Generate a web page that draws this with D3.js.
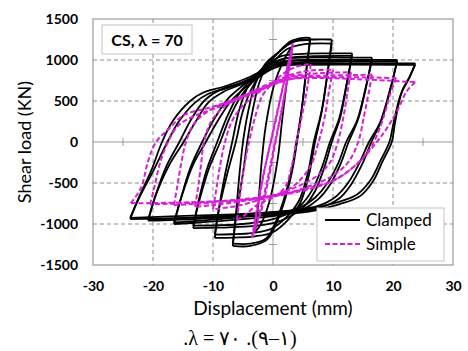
<!DOCTYPE html>
<html>
<head>
<meta charset="utf-8">
<script src="https://cdn.jsdelivr.net/npm/d3@7/dist/d3.min.js"></script>
<style>
    body { margin: 0; background: #fff; }
    svg { display: block; }
</style>
</head>
<body>
<script>
const width = 468;
const height = 351;

// axis labels
const xTicks = [-30, -20, -10, 0, 10, 20, 30];
const yTicks = [-1500, -1000, -500, 0, 500, 1000, 1500];
const xMinorTicks = [-25, -15, -5, 5, 15, 25];
const yMinorTicks = [-1250, -750, -250, 250, 750, 1250];

// Clamped specimen, one loop per array: [displacement mm, shear kN]
// each loop starts at its positive peak, runs to the negative peak and back
const clamped3 = [[3,1150],[2.4,800],[1.5,250],[0.8,-200],[-0.5,-700],[-2,-1000],[-3,-1100],[-2.5,-800],[-1.9,-250],[-1.2,200],[0.2,700],[1.8,1000],[3,1150]];
const clamped6a = [[6.2,1270],[5.6,900],[4.8,400],[4,0],[3.2,-350],[2,-700],[0.5,-1000],[-1,-1190],[-3.8,-1268],[-6.7,-1268],[-6.2,-900],[-5.6,-400],[-5,0],[-4.2,350],[-3,700],[-1.3,950],[1,1100],[3,1230],[5,1270],[6.2,1270]];
const clamped6b = [[6.2,1240],[5.5,850],[4.7,350],[3.9,0],[3.1,-350],[1.8,-700],[0.3,-1000],[-1.2,-1180],[-3.8,-1240],[-6.7,-1240],[-6.1,-880],[-5,-380],[-4.3,0],[-3.4,380],[-2.3,720],[-0.8,960],[1.2,1110],[3.2,1215],[5,1240],[6.2,1240]];
const clamped10a = [[9.8,1250],[9.2,900],[8.2,400],[7,0],[6,-400],[4.5,-750],[2.5,-950],[0,-1100],[-3,-1150],[-6.5,-1165],[-9.7,-1170],[-9.1,-850],[-8,-400],[-6.8,0],[-5.6,400],[-4,700],[-2,880],[0,1020],[2,1170],[4,1240],[7,1250],[9.8,1250]];
const clamped10b = [[9.8,1200],[9.1,850],[8.1,380],[6.8,0],[5.8,-380],[4.3,-720],[2.2,-920],[-0.3,-1060],[-3.5,-1110],[-7,-1125],[-9.7,-1130],[-9,-820],[-7.6,-380],[-6.2,0],[-5,380],[-3.5,660],[-1.8,850],[0.2,990],[2.3,1130],[5,1190],[9.8,1200]];
const clamped13a = [[13.2,1080],[12.4,750],[11.2,300],[9.8,0],[8.6,-300],[7,-600],[5,-800],[2.5,-920],[0,-990],[-4,-1030],[-9,-1045],[-13.3,-1050],[-12.5,-750],[-11.1,-350],[-9.3,0],[-7.7,300],[-6,550],[-4.2,720],[-2.5,840],[-0.5,970],[1.5,1050],[5,1075],[9,1080],[13.2,1080]];
const clamped13b = [[13.2,1050],[12.3,720],[11,280],[9.5,0],[8.2,-300],[6.5,-590],[4.5,-780],[2,-890],[-1,-960],[-5,-1000],[-9,-1015],[-13.3,-1020],[-12.3,-720],[-10.7,-330],[-8.8,0],[-7.2,300],[-5.5,540],[-3.8,700],[-2,820],[0,940],[2,1020],[6,1045],[13.2,1050]];
const clamped16a = [[16.5,1030],[15.6,700],[14.2,280],[12.6,0],[11.2,-280],[9.5,-520],[7.5,-700],[5,-820],[2,-880],[-2,-920],[-8,-960],[-13,-985],[-16.5,-1000],[-15.4,-700],[-13.8,-320],[-11.8,0],[-9.8,280],[-7.6,520],[-5.5,660],[-3.5,780],[-1,920],[1.5,1010],[6,1030],[12,1030],[16.5,1030]];
const clamped16b = [[16.5,1000],[15.5,680],[14,260],[12.2,0],[10.8,-270],[9,-510],[7,-680],[4.5,-800],[1.5,-860],[-3,-900],[-9,-940],[-13,-965],[-16.5,-980],[-15.3,-680],[-13.4,-290],[-11.2,0],[-9.2,260],[-7,500],[-5,640],[-3,760],[-0.8,890],[1.5,980],[6,1000],[16.5,1000]];
const clamped20a = [[20.7,1000],[19.6,650],[18,250],[16.4,0],[14.8,-280],[13,-520],[11,-690],[8,-800],[4,-850],[0,-880],[-6,-910],[-13,-940],[-20.8,-960],[-19.7,-680],[-17.8,-300],[-15.6,0],[-13.6,280],[-11.5,500],[-9,630],[-5.5,720],[-2.5,820],[0,930],[3,990],[10,1000],[20.7,1000]];
const clamped20b = [[20.7,980],[19.5,640],[17.8,230],[16,0],[14.3,-270],[12.5,-500],[10.4,-670],[7.5,-780],[3.5,-830],[-1,-860],[-7,-895],[-14,-925],[-20.8,-950],[-19.6,-660],[-17.3,-280],[-14.9,0],[-12.8,260],[-10.8,480],[-8.3,610],[-5,710],[-2,810],[0.5,920],[3.5,970],[12,980],[20.7,980]];
const clamped24a = [[23.7,960],[22.8,800],[21.5,620],[20.3,220],[19.8,0],[18.3,-230],[16.7,-475],[14.5,-660],[11,-760],[6,-850],[0,-890],[-8,-910],[-16,-930],[-23.8,-940],[-22.5,-700],[-20.3,-350],[-18.5,0],[-16.7,256],[-13.8,500],[-11.7,600],[-8,680],[-4,790],[-1,900],[1,950],[4,960],[12,960],[23.7,960]];
const clamped24b = [[23.7,940],[22.7,780],[21.3,580],[20,200],[19.4,0],[17.9,-230],[16.3,-460],[14,-640],[10.5,-740],[5.5,-820],[0,-860],[-8,-885],[-16,-905],[-23.8,-925],[-22.3,-680],[-19.8,-330],[-17.6,0],[-15.7,250],[-13,480],[-11,580],[-7.5,660],[-3.5,770],[-0.5,880],[1.5,930],[5,940],[23.7,940]];

// Simple specimen
const simple3a = [[3.3,1200],[2.6,850],[1.5,400],[0.4,0],[-0.6,-400],[-2,-850],[-3.5,-1170],[-2.8,-850],[-1.6,-400],[-0.4,0],[0.8,400],[2.2,850],[3.3,1200]];
const simple3b = [[3.2,1150],[2.4,780],[1.2,300],[0.2,-50],[-0.9,-450],[-2.3,-880],[-3.3,-1120],[-2.5,-780],[-1.3,-300],[-0.2,50],[1,450],[2.3,880],[3.2,1150]];
const simple6 = [[6.3,950],[5.8,700],[4.9,350],[3.9,0],[3.1,-300],[2,-550],[0,-680],[-2.5,-760],[-4.5,-880],[-6,-950],[-5.5,-650],[-4.8,-300],[-4,0],[-3,300],[-1.8,560],[0,720],[2,850],[4,920],[6.3,950]];
const simple10 = [[10,880],[9.4,650],[8.6,300],[7.6,0],[6.2,-300],[4,-500],[1.5,-620],[-2,-700],[-6,-780],[-10,-820],[-9.5,-600],[-8.8,-280],[-8,0],[-6.8,260],[-4.8,460],[-2.5,600],[0,720],[3,820],[6,870],[10,880]];
const simple13 = [[13,850],[12.5,650],[11.8,330],[10.8,0],[9.5,-250],[7,-430],[3.5,-560],[0,-650],[-5,-720],[-10,-770],[-13,-790],[-12.5,-560],[-12,-280],[-11.5,0],[-10.3,250],[-8,440],[-4.5,580],[-1,700],[3,800],[8,840],[13,850]];
const simple16 = [[16.5,820],[16,620],[15.2,330],[14.2,0],[12.5,-250],[9.5,-430],[6,-540],[2,-630],[-4,-700],[-10,-740],[-16.5,-770],[-16,-560],[-15.3,-260],[-14.5,0],[-13.2,220],[-10.5,390],[-6,530],[-1,680],[3,790],[9,810],[16.5,820]];
const simple20 = [[20.5,780],[19.6,600],[18.5,320],[17.2,60],[15.8,-120],[13,-330],[10,-470],[6,-560],[2,-630],[-4,-690],[-12,-735],[-20.5,-760],[-19.8,-560],[-18.8,-250],[-17.5,0],[-15.8,200],[-13,320],[-8.5,440],[-4,570],[0,700],[4,780],[12,790],[20.5,780]];
const simple24 = [[23.7,730],[22.3,620],[20.7,380],[19,170],[17.3,0],[14,-270],[10,-475],[6.2,-570],[2,-640],[-4,-700],[-12,-730],[-20,-745],[-23.7,-745],[-22,-560],[-20.8,-230],[-19.5,0],[-17.5,150],[-14.8,330],[-10,430],[-5,560],[0,700],[3,770],[8,780],[16,760],[23.7,730]];

const clampedLoops = [clamped3, clamped6a, clamped6b, clamped10a, clamped10b, clamped13a, clamped13b,
    clamped16a, clamped16b, clamped20a, clamped20b, clamped24a, clamped24b];
const simpleLoops = [simple3a, simple3b, simple6, simple10, simple13, simple16, simple20, simple24];

const font = "Lato, 'Open Sans', sans-serif";
const magenta = "#d81ed8";
const plot = { left: 93, right: 453, top: 19, bottom: 265 };

const svg = d3.select("body")
    .append("svg")
    .attr("width", width)
    .attr("height", height);

const x = d3.scaleLinear().domain([-30, 30]).range([plot.left, plot.right]);
const y = d3.scaleLinear().domain([-1500, 1500]).range([plot.bottom, plot.top]);

svg.append("clipPath")
    .attr("id", "plot-clip")
    .append("rect")
    .attr("x", plot.left)
    .attr("y", plot.top)
    .attr("width", plot.right - plot.left)
    .attr("height", plot.bottom - plot.top);

// dashed grid
svg.selectAll(".grid-x")
    .data(xTicks.filter((d) => d !== 0 && Math.abs(d) !== 30))
    .enter()
    .append("line")
    .attr("x1", (d) => x(d))
    .attr("x2", (d) => x(d))
    .attr("y1", plot.top)
    .attr("y2", plot.bottom)
    .attr("stroke", "#8c8c8c")
    .attr("stroke-dasharray", "4,3");

svg.selectAll(".grid-y")
    .data(yTicks.filter((d) => d !== 0 && Math.abs(d) !== 1500))
    .enter()
    .append("line")
    .attr("x1", plot.left)
    .attr("x2", plot.right)
    .attr("y1", (d) => y(d))
    .attr("y2", (d) => y(d))
    .attr("stroke", "#8c8c8c")
    .attr("stroke-dasharray", "4,3");

// zero axes with crossing ticks
const axisColor = "#9a9a9a";
svg.append("line")
    .attr("x1", plot.left).attr("x2", plot.right)
    .attr("y1", y(0)).attr("y2", y(0))
    .attr("stroke", axisColor);
svg.append("line")
    .attr("x1", x(0)).attr("x2", x(0))
    .attr("y1", plot.top).attr("y2", plot.bottom)
    .attr("stroke", axisColor);
svg.selectAll(".x-minor")
    .data(xMinorTicks)
    .enter()
    .append("line")
    .attr("x1", (d) => x(d)).attr("x2", (d) => x(d))
    .attr("y1", y(0) - 4).attr("y2", y(0) + 4)
    .attr("stroke", axisColor);
svg.selectAll(".y-minor")
    .data(yMinorTicks)
    .enter()
    .append("line")
    .attr("x1", x(0) - 4).attr("x2", x(0) + 4)
    .attr("y1", (d) => y(d)).attr("y2", (d) => y(d))
    .attr("stroke", axisColor);

// split every loop at its negative peak so the reversal corners stay sharp
function branches(loops) {
    const out = [];
    loops.forEach((loop) => {
        const turn = d3.minIndex(loop, (d) => d[0]);
        out.push(loop.slice(0, turn + 1), loop.slice(turn));
    });
    return out;
}

const line = d3.line()
    .x((d) => x(d[0]))
    .y((d) => y(d[1]))
    .curve(d3.curveCatmullRom.alpha(0.5));

const data = svg.append("g").attr("clip-path", "url(#plot-clip)");

data.selectAll(".clamped")
    .data(branches(clampedLoops))
    .enter()
    .append("path")
    .attr("d", line)
    .attr("fill", "none")
    .attr("stroke", "#000")
    .attr("stroke-width", 1.8)
    .attr("stroke-linejoin", "miter");

data.selectAll(".simple")
    .data(branches(simpleLoops))
    .enter()
    .append("path")
    .attr("d", line)
    .attr("fill", "none")
    .attr("stroke", magenta)
    .attr("stroke-width", 2)
    .attr("stroke-dasharray", "5,2.5");

// border
svg.append("rect")
    .attr("x", plot.left)
    .attr("y", plot.top)
    .attr("width", plot.right - plot.left)
    .attr("height", plot.bottom - plot.top)
    .attr("fill", "none")
    .attr("stroke", axisColor)
    .attr("stroke-width", 1.2);

// tick labels
const yAxis = svg.append("g")
    .attr("transform", `translate(${plot.left},0)`)
    .call(d3.axisLeft(y).tickValues(yTicks).tickSize(0).tickPadding(15).tickFormat((d) => String(d)));
const xAxis = svg.append("g")
    .attr("transform", `translate(0,${plot.bottom})`)
    .call(d3.axisBottom(x).tickValues(xTicks).tickSize(0).tickPadding(16).tickFormat((d) => String(d)));
[xAxis, yAxis].forEach((g) => {
    g.select(".domain").remove();
    g.selectAll("text")
        .attr("font-family", font)
        .attr("font-size", 14)
        .attr("font-weight", "bold")
        .attr("fill", "#000");
});

// axis titles
svg.append("text")
    .attr("x", x(0))
    .attr("y", 315)
    .attr("text-anchor", "middle")
    .attr("font-family", font)
    .attr("font-size", 19)
    .text("Displacement (mm)");

svg.append("text")
    .attr("transform", `translate(31,${y(0)}) rotate(-90)`)
    .attr("text-anchor", "middle")
    .attr("font-family", font)
    .attr("font-size", 18)
    .text("Shear load (KN)");

// specimen label
svg.append("rect")
    .attr("x", 102).attr("y", 25)
    .attr("width", 90).attr("height", 29)
    .attr("fill", "#fff")
    .attr("stroke", "#c4c4c4");
svg.append("text")
    .attr("x", 147)
    .attr("y", 46)
    .attr("text-anchor", "middle")
    .attr("font-family", font)
    .attr("font-size", 16)
    .attr("font-weight", "bold")
    .text("CS, λ = 70");

// legend
const legend = svg.append("g").attr("transform", "translate(317,208)");
legend.append("rect")
    .attr("width", 127).attr("height", 53)
    .attr("fill", "#fff")
    .attr("stroke", "#c4c4c4");
const legendItems = [
    { label: "Clamped", color: "#000", dash: null },
    { label: "Simple", color: magenta, dash: "5,2.5" },
];
legendItems.forEach((item, i) => {
    const ly = 12 + i * 24;
    legend.append("line")
        .attr("x1", 8).attr("x2", 43)
        .attr("y1", ly).attr("y2", ly)
        .attr("stroke", item.color)
        .attr("stroke-width", 2)
        .attr("stroke-dasharray", item.dash);
    legend.append("text")
        .attr("x", 49)
        .attr("y", ly + 6)
        .attr("font-family", font)
        .attr("font-size", 17)
        .text(item.label);
});

// caption
svg.append("text")
    .attr("x", 240)
    .attr("y", 345)
    .attr("text-anchor", "middle")
    .attr("font-family", "'Liberation Serif', 'DejaVu Serif', serif")
    .attr("font-size", 20)
    .style("direction", "ltr")
    .style("unicode-bidi", "bidi-override")
    .text(".λ = ٧٠ .(٩–١)");
</script>
</body>
</html>
